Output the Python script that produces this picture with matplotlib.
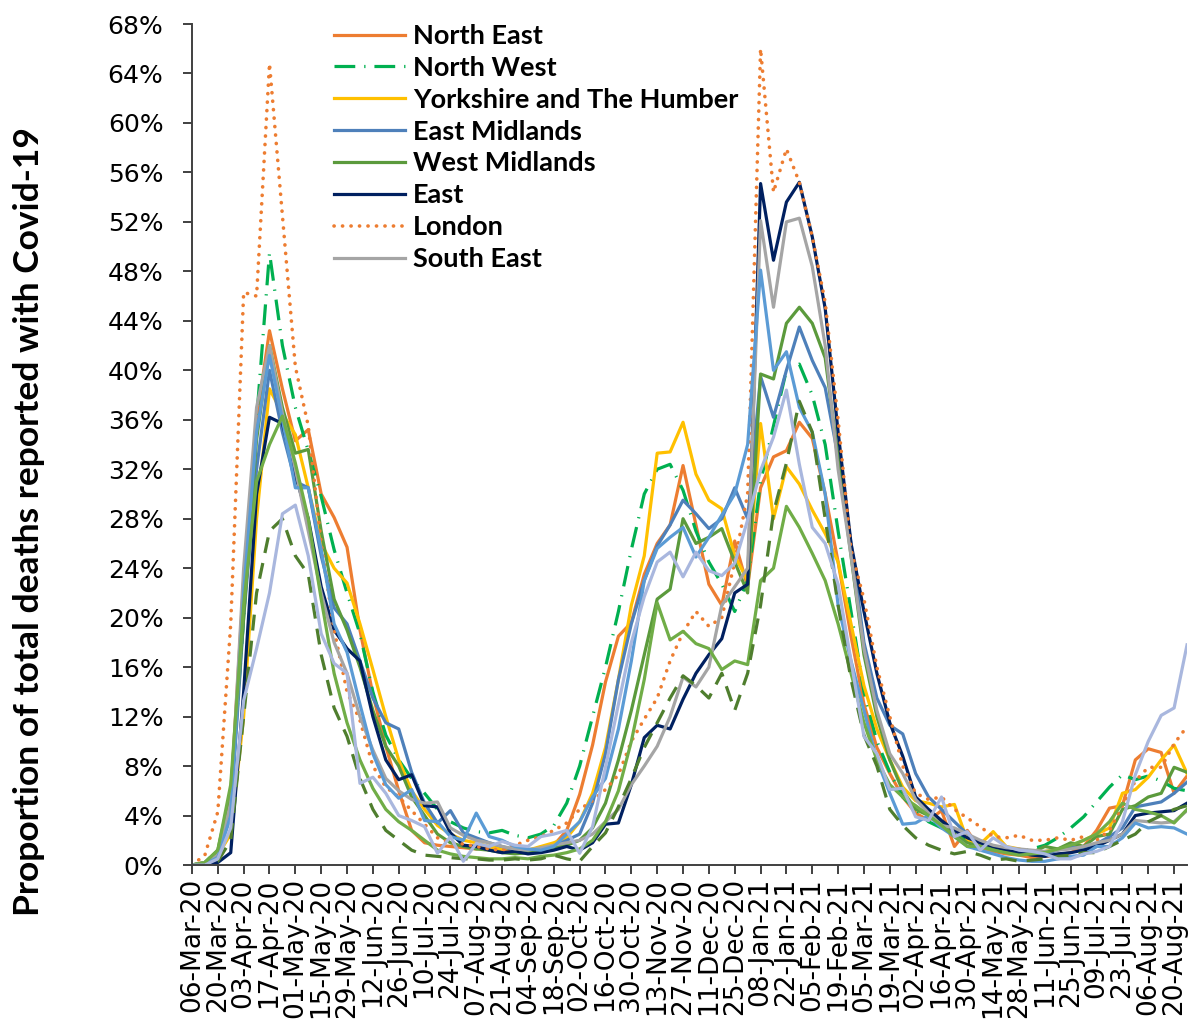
import numpy as np
import pandas as pd
import matplotlib
matplotlib.use("Agg")
import matplotlib.pyplot as plt

# weekly points, 06-Mar-20 .. 27-Aug-21
dates = pd.date_range("2020-03-06", periods=78, freq="7D")
tick_labels = [d.strftime("%d-%b-%y") for d in dates[::2]]

north_east = [0, 0.2, 1.0, 5.5, 23, 36, 43.2, 38.5, 34.3, 35.2, 30, 28.1, 25.7, 19, 13.8, 9.6, 6, 2.8, 1.8, 1.6,
              1.5, 1.4, 1.3, 1.5, 1.2, 1.0, 1.2, 1.4, 1.6, 2.8, 5.7, 9.7, 14.8, 18.5, 19.6, 23.5, 26, 27.5, 32.3, 27.5,
              22.7, 21, 26.2, 22.5, 30.5, 33, 33.5, 35.8, 34.5, 30, 24.5, 18.5, 13, 9.5, 7.4, 5.5, 4.2, 3.6, 4.4, 1.5,
              2.8, 1.2, 1.1, 0.9, 0.8, 0.6, 0.7, 0.8, 1.0, 1.5, 2.8, 4.6, 4.8, 8.5, 9.4, 9.1, 5.8, 7.2]
north_west = [0, 0.2, 1.2, 5, 20, 36, 49.5, 42, 37, 33.5, 29.8, 25.5, 22, 18.7, 14, 10.5, 8.5, 7, 5.8, 4.5,
              3.5, 3.0, 2.7, 2.6, 2.8, 2.4, 2.2, 2.5, 3.2, 5, 8, 12, 16, 20.5, 25.5, 30, 32, 32.4, 30.3, 27,
              24.5, 22.7, 20.5, 23, 31, 35.5, 40, 40.5, 38, 34, 27, 20.5, 14, 10, 7.5, 5.5, 4.5, 3.5, 3.0, 2.5,
              2.0, 1.6, 1.3, 1.2, 1.0, 1.3, 1.6, 2.2, 3.0, 3.9, 5.1, 6.3, 7.3, 6.9, 7.2, 6.8, 6.2, 6.0]
yorkshire = [0, 0.1, 0.8, 2.5, 12, 28, 38.5, 36.5, 34.8, 30.5, 26, 24, 22.8, 19.5, 15.8, 12, 8.5, 6, 4.5, 3.2,
             2.5, 2.0, 1.8, 1.5, 1.3, 1.4, 1.2, 1.5, 1.8, 2.2, 3.5, 5.8, 9.5, 15, 21, 25, 33.3, 33.4, 35.8, 31.6,
             29.5, 28.8, 25, 23, 35.7, 28, 32.2, 30.8, 28.7, 26.8, 24.5, 19.5, 14.5, 11, 8.5, 6.3, 5.2, 5.0, 4.7, 4.9,
             2.0, 1.7, 2.7, 1.5, 1.3, 1.0, 1.1, 1.3, 1.5, 2.0, 2.5, 3.0, 5.8, 6.1, 7.1, 8.5, 9.7, 7.4]
east_midlands = [0, 0.1, 0.8, 4, 20, 32, 40, 35, 31, 30.5, 25, 20.8, 19.5, 16.5, 13.5, 11.5, 11, 7.5, 5, 3.4,
                 4.4, 2.6, 2.2, 1.8, 1.5, 1.2, 1.0, 1.2, 1.5, 2, 2.5, 5, 9, 15, 19.5, 23, 25.8, 27.5, 29.5, 28.4,
                 27.2, 28, 30.5, 28, 39.5, 36.2, 40, 43.5, 40.8, 38.6, 33, 26, 18, 13.5, 11.3, 10.6, 7.4, 5.5, 4.5, 3.5,
                 2.5, 1.8, 1.5, 1.2, 1.0, 1.0, 0.9, 1.2, 1.5, 1.3, 1.7, 2.3, 3.0, 4.7, 4.9, 5.1, 5.8, 6.7]
west_midlands = [0, 0.2, 1.2, 6, 20, 34.4, 42, 37, 33.3, 33.6, 27, 21.5, 19, 16, 12.5, 9.6, 8, 5.5, 4, 2.5,
                 1.8, 1.5, 1.3, 1.2, 1.0, 0.9, 1.0, 1.2, 1.4, 1.6, 2.0, 3.0, 5, 8.5, 12.5, 17, 21.5, 22.3, 28, 26,
                 26.5, 27.2, 24.5, 22, 39.7, 39.3, 43.8, 45.1, 43.8, 41, 33, 25, 17, 12, 8.5, 6, 4.5, 4, 3.5, 2.5,
                 1.8, 1.5, 1.3, 1.1, 1.2, 1.0, 1.5, 1.3, 1.8, 1.5, 2.3, 2.5, 4.5, 4.8, 5.5, 5.8, 7.9, 7.5]
east = [0, 0.1, 0.2, 1.0, 14, 30, 36.2, 35.7, 31.5, 28, 22.5, 19, 17.5, 16.5, 12, 8.5, 6.9, 7.3, 4.8, 4.7,
        2.6, 1.6, 1.5, 1.2, 1.0, 1.1, 0.9, 1.0, 1.2, 1.5, 1.2, 1.8, 3.3, 3.4, 6.5, 10.3, 11.3, 11.0, 13.4, 15.5,
        17, 18.3, 22, 22.7, 55.1, 48.9, 53.6, 55.2, 50.8, 45, 35, 26, 20.5, 15.5, 11.5, 8.8, 5.5, 4.5, 3.6, 2.8,
        2.2, 1.8, 1.5, 1.2, 1.0, 0.8, 0.7, 0.9, 1.0, 1.2, 1.5, 2.0, 2.5, 4.0, 4.2, 4.3, 4.4, 5.0]
london = [0, 0.8, 4.3, 19.5, 46.3, 46.0, 64.8, 52.5, 40.3, 35.5, 26, 19, 14, 11.7, 8, 6.3, 5.5, 4.4, 3.3, 2.2,
          1.8, 1.7, 1.5, 1.3, 1.2, 1.6, 2.0, 2.3, 2.8, 3.4, 4.5, 5.2, 6.1, 7.3, 10, 11.8, 13.5, 16.5, 18.8, 20.5,
          19.3, 20, 24.5, 30, 66, 54.4, 57.9, 55.2, 50.8, 45.5, 36, 25.5, 21.5, 16, 12, 8, 5.8, 5.3, 5.5, 4.5,
          3.8, 3.1, 2.3, 2.2, 2.4, 2.0, 2.0, 2.2, 2.0, 2.3, 2.0, 2.8, 4.8, 6.8, 7.9, 7.9, 9.8, 11.2]
south_east = [0, 0.2, 0.8, 5, 24, 37, 42, 36.5, 32, 27, 22, 18, 15.5, 12, 9.3, 7, 6, 5.3, 5.0, 5.1,
              3, 2.4, 2.0, 1.8, 1.5, 1.3, 1.2, 1.4, 1.6, 1.8, 2.0, 2.5, 3.5, 4.5, 6.5, 8, 9.6, 12, 15.2, 14.4,
              16, 21, 22.5, 24, 52.1, 45.1, 52, 52.3, 48.4, 42, 32, 25, 17.5, 12.5, 9, 7.4, 5.3, 4.2, 3.2, 3,
              2.5, 2.0, 1.6, 1.4, 1.3, 1.2, 1.1, 1.2, 1.3, 1.5, 1.8, 2.0, 2.5, 3.6, 3.5, 3.4, 3.5, 4.4]
south_west = [0, 0.1, 0.6, 4, 22, 35, 41.2, 36, 30.5, 30.5, 25.5, 19.5, 17.2, 13, 9, 6.5, 5.4, 6.1, 3.6, 3.5,
              2.3, 2.0, 4.2, 2.3, 2.0, 1.5, 1.3, 1.2, 1.5, 2.5, 3.5, 5.5, 7, 11, 16.5, 23, 25.6, 26.5, 27.3, 24.9,
              26.5, 28.3, 30, 34, 48.1, 40, 41.5, 37, 35, 30, 21, 16.5, 12.5, 8.5, 5.8, 3.3, 3.4, 4.0, 3.0, 2.3,
              1.5, 1.2, 0.9, 0.6, 0.4, 0.3, 0.3, 0.5, 0.7, 0.8, 1.5, 1.5, 2.2, 3.4, 3.0, 3.1, 3.0, 2.5]
wales = [0, 0.2, 1.2, 6.5, 21, 31, 34, 36.3, 32.5, 28, 21.5, 15.5, 11.5, 8.5, 6.2, 4.5, 3.5, 2.8, 2.0, 1.2,
         0.9, 0.7, 0.6, 0.5, 0.5, 0.6, 0.5, 0.7, 0.8, 1.0, 1.3, 2.0, 3.5, 6, 10, 15, 21.2, 18.2, 18.9, 17.9,
         17.5, 15.8, 16.5, 16.2, 23, 24, 29, 27.3, 25.2, 23, 19.5, 15.5, 11.5, 8.5, 6.5, 5.5, 4.8, 4.0, 3.2, 2.3,
         1.5, 1.5, 1.2, 1.0, 0.8, 0.9, 1.0, 1.3, 1.6, 2.0, 2.5, 3.5, 5.0, 4.5, 4.3, 4.0, 3.4, 4.5]
scotland = [0, 0, 0.3, 2, 12, 22, 27, 28, 25, 23.5, 17, 12.7, 10.4, 7, 4.5, 2.8, 2.0, 1.2, 0.8, 0.7,
            0.6, 0.5, 0.5, 0.4, 0.4, 0.5, 0.4, 0.5, 0.8, 0.5, 0.3, 1.5, 2.6, 4.7, 7, 9.5, 11.5, 13.5, 15.3, 14.5,
            13.5, 15.5, 12.5, 15.5, 21, 28.5, 32.5, 37.5, 35, 28, 21, 15, 10.5, 8, 4.5, 3.2, 2.2, 1.6, 1.2, 0.9,
            1.1, 0.8, 0.4, 0.5, 0.3, 0.4, 0.5, 0.7, 0.8, 1.0, 1.0, 1.5, 2.0, 2.5, 3.5, 4.0, 4.5, 4.8]
northern_ireland = [0, 0, 0.5, 3, 13.3, 17.5, 22, 28.4, 29.1, 25, 18.7, 16.3, 15.5, 6.6, 7.1, 5.8, 4.0, 3.6, 3.1, 0.95,
                    2.3, 0.3, 1.75, 1.5, 1.9, 1.6, 1.5, 2.3, 2.5, 2.8, 0.95, 3.1, 7.9, 13, 18, 21.7, 24.5, 25.3, 23.3, 25.3,
                    23.8, 23.4, 24.4, 27.9, 31.9, 34.6, 38.4, 32.4, 27.3, 26, 22.7, 16.5, 10.4, 9.0, 6.1, 6.2, 3.9, 3.6, 5.5, 2.3,
                    2.7, 1.2, 2.2, 1.5, 1.2, 1.1, 0.9, 0.5, 0.5, 0.9, 1.1, 1.5, 3.5, 7.3, 10, 12.1, 12.7, 17.8]

names = ["North East", "North West", "Yorkshire and The Humber", "East Midlands", "West Midlands",
         "East", "London", "South East", "South West", "Wales", "Scotland", "Northern Ireland"]
series = [north_east, north_west, yorkshire, east_midlands, west_midlands, east, london,
          south_east, south_west, wales, scotland, northern_ireland]
colors = ["#ED7D31", "#00B050", "#FFC000", "#4E80BA", "#5B9A3C", "#002060", "#ED7D31",
          "#A5A5A5", "#5B9BD5", "#70AD47", "#4F7E2E", "#A9B7DE"]
styles = ["-", (0, (6.5, 2.8, 0.4, 2.8)), "-", "-", "-", "-", (0, (0.05, 2.3)),
          "-", "-", "-", (0, (5, 3.2)), "-"]

fig = plt.figure(figsize=(11.96, 10.26), dpi=100)
ax = fig.add_axes([0.1605, 0.1569, 0.832, 0.8197])

x = np.arange(len(dates))
handles = []
for name, vals, c, ls in zip(names, series, colors, styles):
    lw = 2.6 if name == "London" else 2.3
    cap = "round" if name == "London" else "butt"
    h, = ax.plot(x, vals, color=c, linestyle=ls, lw=lw, dash_capstyle=cap, label=name)
    handles.append(h)

ax.set_xlim(0, 77)
ax.set_ylim(0, 68)
ax.set_yticks(np.arange(0, 69, 4))
ax.set_yticklabels([f"{v}%" for v in range(0, 69, 4)], fontsize=18, family="DejaVu Sans")
ax.set_xticks(x[::2])
ax.set_xticklabels(tick_labels, rotation=90, fontsize=19, family="DejaVu Sans")

for s in ["top", "right"]:
    ax.spines[s].set_visible(False)
for s in ["left", "bottom"]:
    ax.spines[s].set_color("#404040")
    ax.spines[s].set_linewidth(1.4)
ax.tick_params(axis="both", direction="out", length=6.5, width=1.4, color="#404040")
ax.tick_params(axis="y", pad=14)
ax.tick_params(axis="x", pad=3)

leg = ax.legend(handles=handles[:8], loc="upper left", bbox_to_anchor=(0.143, 1.0),
                frameon=False, handlelength=2.6, handletextpad=0.3, labelspacing=0.29,
                borderaxespad=0, borderpad=0,
                prop={"family": ["Lato", "DejaVu Sans"], "weight": "bold", "size": 19.5})

fig.text(0.024, 1 - 522 / 1026, "Proportion of total deaths reported with Covid-19",
         rotation=90, ha="center", va="center", fontsize=25.5, fontweight="bold",
         family=["Lato", "DejaVu Sans"])

fig.savefig("out.png", dpi=100)
